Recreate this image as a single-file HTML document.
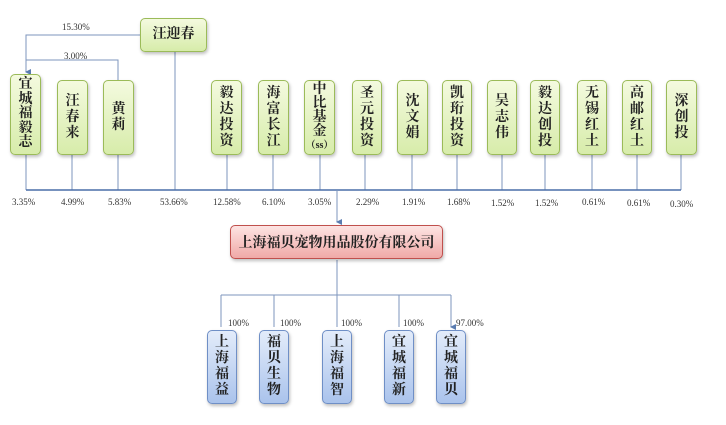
<!DOCTYPE html>
<html><head><meta charset="utf-8"><style>
body{margin:0;width:726px;height:425px;background:#fff;position:relative;overflow:hidden;font-family:"Liberation Serif","Noto Serif CJK SC","Noto Sans CJK SC",serif}
.g{position:absolute;border:1px solid #9bbb59;border-radius:5px;background:linear-gradient(#f4fadf,#d7ecaa);box-shadow:1px 2px 3px rgba(0,0,0,.25);display:flex;flex-direction:column;align-items:center;justify-content:center;font-size:14px;font-weight:bold;color:#222;line-height:16px;box-sizing:border-box}
.b{position:absolute;border:1px solid #6f8fc6;border-radius:5px;background:linear-gradient(#e3ecfa,#aac3ec);box-shadow:1px 2px 3px rgba(0,0,0,.25);display:flex;flex-direction:column;align-items:center;justify-content:center;font-size:14px;font-weight:bold;color:#222;line-height:16px;box-sizing:border-box}
.p{position:absolute;font-size:9px;color:#333}
svg{position:absolute;left:0;top:0}
</style></head><body>
<svg width="726" height="425">
<defs><marker id="a" markerWidth="6" markerHeight="6" refX="3" refY="5" orient="auto"><path d="M0,0 L6,0 L3,6z" fill="#5a7cb0"/></marker></defs>
<g stroke="#7d95bd" stroke-width="1" fill="none">
<path d="M140,35 H26 V72" marker-end="url(#a)"/>
<path d="M118,80 V60 H26"/>
<path d="M26,155 V190 M72,155 V190 M118,155 V190 M175,52 V190 M227,155 V190 M273,155 V190 M320,155 V190 M365,155 V190 M412,155 V190 M457,155 V190 M502,155 V190 M545,155 V190 M592,155 V190 M637,155 V190 M681,155 V190"/>
<path d="M26,190 H681" stroke="#4a6fa8" stroke-width="1.5"/>
<path d="M337,190 V222" marker-end="url(#a)"/>
<path d="M337,260 V295 M221,295 H451"/>
<path d="M221,295 V327 M274,295 V327 M337,295 V327 M399,295 V327 M451,295 V327" marker-end="url(#a)"/>
</g></svg>
<div class="g" style="left:140px;top:18px;width:67px;height:34px;flex-direction:row">汪迎春</div>
<div class="g" style="left:10px;top:74px;width:31px;height:81px;line-height:14.5px"><span>宜</span><span>城</span><span>福</span><span>毅</span><span>志</span></div>
<div class="g" style="left:57px;top:80px;width:31px;height:75px"><span>汪</span><span>春</span><span>来</span></div>
<div class="g" style="left:103px;top:80px;width:31px;height:75px"><span>黄</span><span>莉</span></div>
<div class="g" style="left:211px;top:80px;width:31px;height:75px"><span>毅</span><span>达</span><span>投</span><span>资</span></div>
<div class="g" style="left:258px;top:80px;width:31px;height:75px"><span>海</span><span>富</span><span>长</span><span>江</span></div>
<div class="g" style="left:304px;top:80px;width:31px;height:75px;line-height:14px"><span>中</span><span>比</span><span>基</span><span>金</span><span style="font-size:10px">（ss）</span></div>
<div class="g" style="left:352px;top:80px;width:30px;height:75px"><span>圣</span><span>元</span><span>投</span><span>资</span></div>
<div class="g" style="left:397px;top:80px;width:31px;height:75px"><span>沈</span><span>文</span><span>娟</span></div>
<div class="g" style="left:442px;top:80px;width:30px;height:75px"><span>凯</span><span>珩</span><span>投</span><span>资</span></div>
<div class="g" style="left:487px;top:80px;width:30px;height:75px"><span>吴</span><span>志</span><span>伟</span></div>
<div class="g" style="left:530px;top:80px;width:30px;height:75px"><span>毅</span><span>达</span><span>创</span><span>投</span></div>
<div class="g" style="left:577px;top:80px;width:30px;height:75px"><span>无</span><span>锡</span><span>红</span><span>土</span></div>
<div class="g" style="left:622px;top:80px;width:30px;height:75px"><span>高</span><span>邮</span><span>红</span><span>土</span></div>
<div class="g" style="left:666px;top:80px;width:31px;height:75px"><span>深</span><span>创</span><span>投</span></div>
<div class="p" style="left:62px;top:22px">15.30%</div>
<div class="p" style="left:64px;top:51px">3.00%</div>
<div class="p" style="left:12px;top:197px">3.35%</div>
<div class="p" style="left:61px;top:197px">4.99%</div>
<div class="p" style="left:108px;top:197px">5.83%</div>
<div class="p" style="left:160px;top:197px">53.66%</div>
<div class="p" style="left:213px;top:197px">12.58%</div>
<div class="p" style="left:262px;top:197px">6.10%</div>
<div class="p" style="left:308px;top:197px">3.05%</div>
<div class="p" style="left:356px;top:197px">2.29%</div>
<div class="p" style="left:402px;top:197px">1.91%</div>
<div class="p" style="left:447px;top:197px">1.68%</div>
<div class="p" style="left:491px;top:198px">1.52%</div>
<div class="p" style="left:535px;top:198px">1.52%</div>
<div class="p" style="left:582px;top:197px">0.61%</div>
<div class="p" style="left:627px;top:198px">0.61%</div>
<div class="p" style="left:670px;top:199px">0.30%</div>
<div style="position:absolute;left:230px;top:225px;width:213px;height:34px;border:1px solid #c0504d;border-radius:5px;background:linear-gradient(#fde4e3,#f0a9a7);box-shadow:1px 2px 3px rgba(0,0,0,.25);box-sizing:border-box;display:flex;align-items:center;justify-content:center;font-size:14px;font-weight:bold;color:#222">上海福贝宠物用品股份有限公司</div>
<div class="b" style="left:207px;top:330px;width:30px;height:74px"><span>上</span><span>海</span><span>福</span><span>益</span></div>
<div class="b" style="left:259px;top:330px;width:30px;height:74px"><span>福</span><span>贝</span><span>生</span><span>物</span></div>
<div class="b" style="left:322px;top:330px;width:30px;height:74px"><span>上</span><span>海</span><span>福</span><span>智</span></div>
<div class="b" style="left:384px;top:330px;width:30px;height:74px"><span>宜</span><span>城</span><span>福</span><span>新</span></div>
<div class="b" style="left:436px;top:330px;width:30px;height:74px"><span>宜</span><span>城</span><span>福</span><span>贝</span></div>
<div class="p" style="left:228px;top:318px">100%</div>
<div class="p" style="left:280px;top:318px">100%</div>
<div class="p" style="left:341px;top:318px">100%</div>
<div class="p" style="left:403px;top:318px">100%</div>
<div class="p" style="left:456px;top:318px">97.00%</div>
</body></html>
